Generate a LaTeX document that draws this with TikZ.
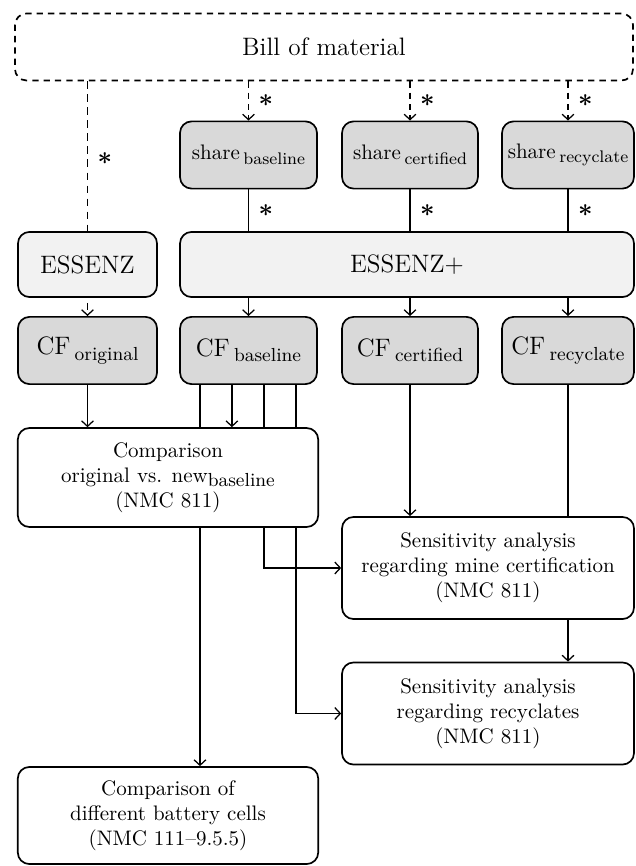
\documentclass[tikz,border=0pt]{standalone}
\usepackage{tikz}
\usetikzlibrary{arrows,arrows.meta,positioning,backgrounds,calc}

\newcommand{\lowsub}[2]{#1\raisebox{-0.5ex}{#2}}

\begin{document}
\begin{tikzpicture}[x=0.476pt, y=-0.476pt,
    >={Straight Barb[length=2.6pt, width=5.6pt]},
    box/.style={rectangle, draw, thick, rounded corners=5.5pt, align=center, inner sep=2pt},
    gbox/.style={box, fill=gray!30, minimum height=32pt},
    lbox/.style={box, fill=gray!10, minimum height=31pt, font=\large},
    wbox/.style={box, fill=white},
    link/.style={semithick, ->},
    line/.style={semithick},
    dlink/.style={semithick, ->, dash pattern=on 3pt off 2.4pt},
    star/.style={font=\large\boldmath, inner sep=3pt, xshift=1.5pt}
]

\useasboundingbox (0,0) rectangle (635,866);

% Input
\node[box, dash pattern=on 3pt off 2.4pt, minimum width=294.2pt, minimum height=31.9pt, font=\large] (bill) at (324,47) {Bill of material};

% Shares
\node[gbox, minimum width=65.2pt] (shareb) at (248.5,155) {\lowsub{share\,}{\footnotesize baseline}};
\node[gbox, minimum width=64.7pt] (sharec) at (410,155) {\lowsub{share\,}{\footnotesize certified}};
\node[gbox, minimum width=62.8pt] (sharer) at (568,155) {\lowsub{share\,}{\footnotesize recyclate}};

% Databases
\node[lbox, minimum width=66.2pt] (essenz) at (87.5,264.5) {ESSENZ};
\node[lbox, minimum width=216.1pt] (essenzp) at (407,264.5) {ESSENZ+};

% Carbon footprints
\node[gbox, font=\large, minimum width=66.2pt] (cfo) at (87.5,350.5) {\lowsub{CF\,}{\small original}};
\node[gbox, font=\large, minimum width=65.2pt] (cfb) at (248.5,350.5) {\lowsub{CF\,}{\small baseline}};
\node[gbox, font=\large, minimum width=64.7pt] (cfc) at (410,350.5) {\lowsub{CF\,}{\small certified}};
\node[gbox, font=\large, minimum width=62.8pt] (cfr) at (568,350.5) {\lowsub{CF\,}{\small recyclate}};

% Analyses
\node[wbox, minimum width=143pt, minimum height=47.1pt] (comp) at (168,477.5) {Comparison\\original vs. \lowsub{new}{\small baseline}\\(NMC 811)};
\node[wbox, minimum width=139pt, minimum height=48.6pt] (sensm) at (488,568) {Sensitivity analysis\\regarding mine certification\\(NMC 811)};
\node[wbox, minimum width=139pt, minimum height=48.6pt] (sensr) at (488,713.5) {Sensitivity analysis\\regarding recyclates\\(NMC 811)};
\node[wbox, minimum width=143pt, minimum height=46.2pt] (compb) at (168,815.5) {Comparison of\\different battery cells\\(NMC 111--9.5.5)};

% Bill of material to shares
\draw[dlink] (bill.south -| shareb.north) -- node[star, right] (st1) {$\ast$} (shareb.north);
\draw[dlink] (bill.south -| sharec.north) -- node[star, right] (st2) {$\ast$} (sharec.north);
\draw[dlink] (bill.south -| sharer.north) -- node[star, right] (st3) {$\ast$} (sharer.north);

% Shares to ESSENZ+
\draw[line] (shareb.south) -- node[star, right] (st4) {$\ast$} (shareb.south |- essenzp.north);
\draw[line] (sharec.south) -- node[star, right] (st5) {$\ast$} (sharec.south |- essenzp.north);
\draw[line] (sharer.south) -- node[star, right] (st6) {$\ast$} (sharer.south |- essenzp.north);

% ESSENZ+ to CFs
\draw[link] (cfb.north |- essenzp.south) -- (cfb.north);
\draw[link] (cfc.north |- essenzp.south) -- (cfc.north);
\draw[link] (cfr.north |- essenzp.south) -- (cfr.north);

% CFs to analyses
\draw[link] (cfo.south) -- (cfo.south |- comp.north);
\draw[link] ([xshift=-7.9pt]cfb.south) -- ([xshift=-7.9pt]cfb.south |- comp.north);
\draw[link] (cfc.south) -- (cfc.south |- sensm.north);

\begin{pgfonlayer}{background}
\draw[dlink, dash pattern=on 3.6pt off 2.6pt] (bill.south -| cfo.north) -- node[star, right, pos=0.33] (st7) {$\ast$} (cfo.north);
\draw[link] ([xshift=-23.1pt]cfb.south) -- ([xshift=-23.1pt]cfb.south |- compb.north);
\draw[link] ([xshift=7.4pt]cfb.south) |- (sensm.west);
\draw[link] ([xshift=22.6pt]cfb.south) |- (sensr.west);
\draw[link] (cfr.south) -- (cfr.south |- sensr.north);
\end{pgfonlayer}

\end{tikzpicture}
\end{document}
